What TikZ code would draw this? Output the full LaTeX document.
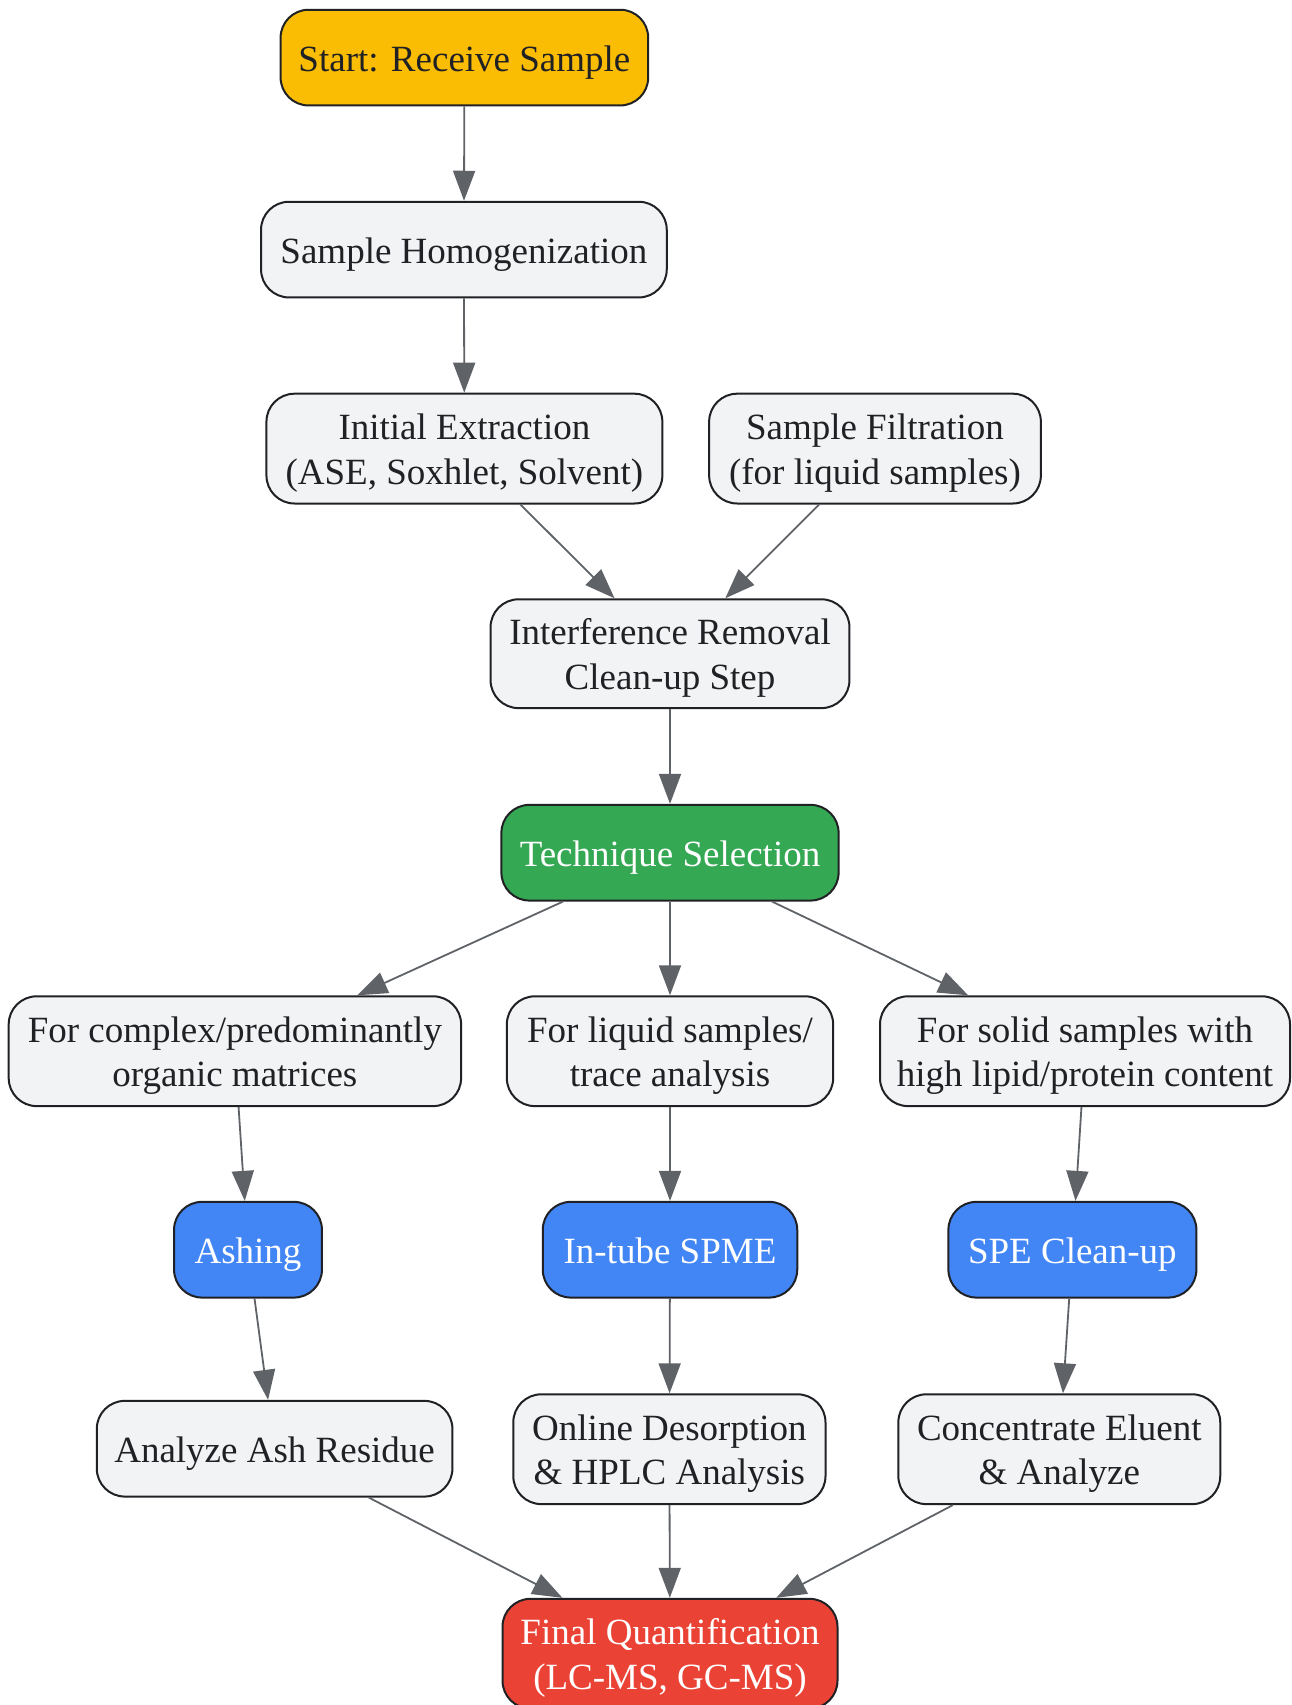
\documentclass[tikz,border=0pt]{standalone}
\usepackage{fontspec}
\setmainfont{Liberation Serif}
\usetikzlibrary{arrows.meta}
\definecolor{cyellow}{HTML}{FBBC04}
\definecolor{cgreen}{HTML}{34A853}
\definecolor{cblue}{HTML}{4285F4}
\definecolor{cred}{HTML}{EA4335}
\definecolor{cgray}{HTML}{F1F3F4}
\definecolor{cborder}{HTML}{202124}
\definecolor{cedge}{HTML}{5F6368}
\newcommand\boxstrut{\rule[-8pt]{0pt}{43pt}}
\tikzset{
  box/.style={rectangle, rounded corners=28pt, draw=cborder, line width=2pt,
    fill=cgray, text=cborder, inner sep=0pt, align=center,
    font=\fontsize{37}{44.5}\selectfont},
  startbox/.style={box, fill=cyellow},
  techbox/.style={box, fill=cgreen, text=white},
  methbox/.style={box, fill=cblue, text=white},
  finalbox/.style={box, fill=cred, text=white},
  conn/.style={draw=cedge, line width=1.8pt, -{Triangle[length=30pt,width=22pt]}}
}
\begin{document}
\begin{tikzpicture}[x=1pt,y=-1pt]
\useasboundingbox (0,0) rectangle (1291,1705);
\node[startbox, minimum width=367.6pt, minimum height=95.7pt] (start) at (464.4,57.6) {\boxstrut Start: Receive Sample};
\node[box, minimum width=405.7pt, minimum height=95.7pt] (homog) at (463.9,249.6) {\boxstrut Sample Homogenization};
\node[box, minimum width=395.9pt, minimum height=109.8pt] (ie) at (464.4,448.6) {\boxstrut Initial Extraction\\\boxstrut(ASE, Soxhlet, Solvent)};
\node[box, minimum width=331.7pt, minimum height=109.8pt] (sf) at (875.0,448.6) {\boxstrut Sample Filtration\\\boxstrut(for liquid samples)};
\node[box, minimum width=358.9pt, minimum height=108.8pt] (ir) at (670.0,653.7) {\boxstrut Interference Removal\\\boxstrut Clean-up Step};
\node[techbox, minimum width=337.2pt, minimum height=95.7pt] (ts) at (670.0,852.7) {\boxstrut Technique Selection};
\node[box, minimum width=452.4pt, minimum height=109.8pt] (fc) at (234.9,1051.2) {\boxstrut For complex/predominantly\\\boxstrut organic matrices};
\node[box, minimum width=326.3pt, minimum height=109.8pt] (fl) at (670.0,1051.2) {\boxstrut For liquid samples/\\\boxstrut trace analysis};
\node[box, minimum width=410pt, minimum height=109.8pt] (fs) at (1085.0,1051.2) {\boxstrut For solid samples with\\\boxstrut high lipid/protein content};
\node[methbox, minimum width=147.9pt, minimum height=95.7pt] (ash) at (248.0,1249.7) {\boxstrut Ashing};
\node[methbox, minimum width=254.5pt, minimum height=95.7pt] (spme) at (670.0,1249.7) {\boxstrut In-tube SPME};
\node[methbox, minimum width=248.0pt, minimum height=95.7pt] (spe) at (1072.4,1249.7) {\boxstrut SPE Clean-up};
\node[box, minimum width=355.6pt, minimum height=95.7pt] (aar) at (274.6,1448.7) {\boxstrut Analyze Ash Residue};
\node[box, minimum width=312.2pt, minimum height=109.8pt] (od) at (669.4,1449.2) {\boxstrut Online Desorption\\\boxstrut\& HPLC Analysis};
\node[box, minimum width=321.9pt, minimum height=109.8pt] (ce) at (1059.3,1449.2) {\boxstrut Concentrate Eluent\\\boxstrut\& Analyze};
\node[finalbox, minimum width=335pt, minimum height=109.8pt] (fq) at (670.0,1653.7) {\boxstrut Final Quantification\\\boxstrut(LC-MS, GC-MS)};
\draw[conn] (start) -- (homog);
\draw[conn] (homog) -- (ie);
\draw[conn] (ie) -- (ir);
\draw[conn] (sf) -- (ir);
\draw[conn] (ir) -- (ts);
\draw[conn] (ts) -- (fc);
\draw[conn] (ts) -- (fl);
\draw[conn] (ts) -- (fs);
\draw[conn] (fc) -- (ash);
\draw[conn] (fl) -- (spme);
\draw[conn] (fs) -- (spe);
\draw[conn] (ash) -- (aar);
\draw[conn] (spme) -- (od);
\draw[conn] (spe) -- (ce);
\draw[conn] (aar) -- (fq);
\draw[conn] (od) -- (fq);
\draw[conn] (ce) -- (fq);
\end{tikzpicture}
\end{document}
